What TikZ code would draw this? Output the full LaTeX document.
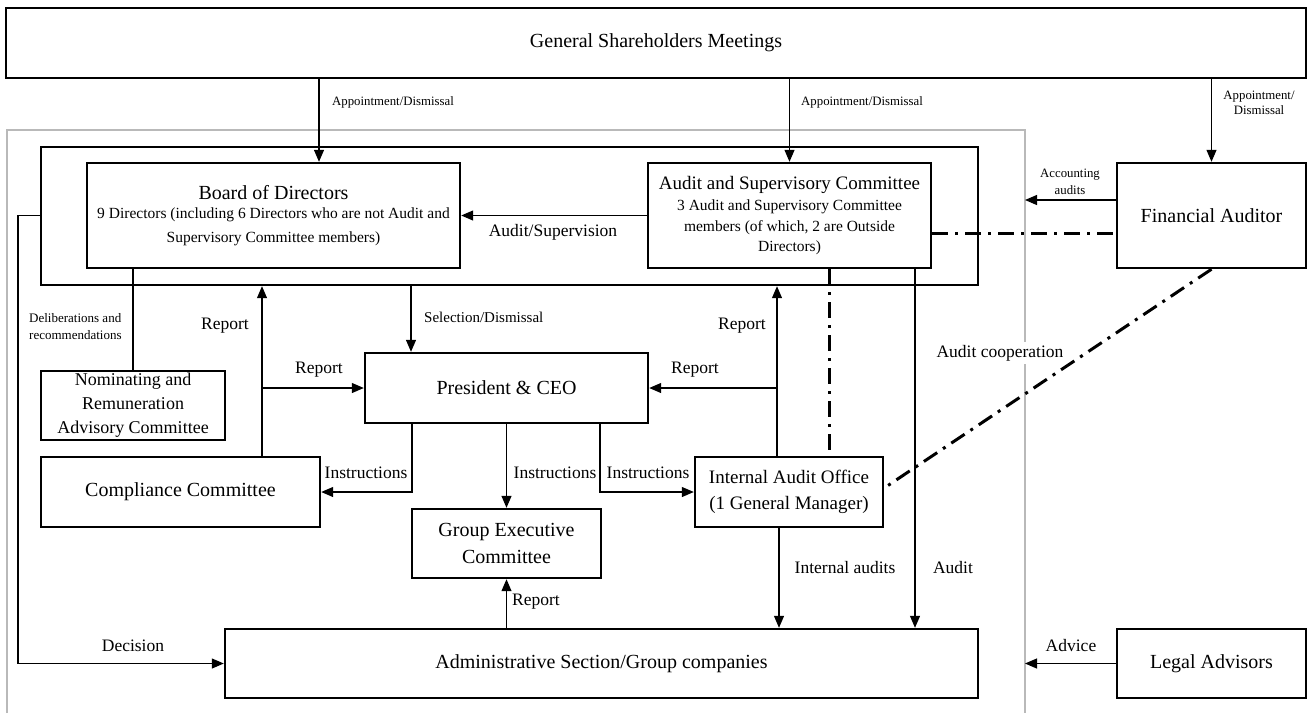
\documentclass[tikz,border=0pt]{standalone}
\usepackage{fontspec}
\setmainfont{Liberation Serif}
\usetikzlibrary{arrows.meta}
\newcommand\myTitle{\fontsize{20}{25}\selectfont}
\newcommand\myLab{\fontsize{17.5}{21}\selectfont}
\newcommand\mySmall{\fontsize{12.8}{15.5}\selectfont}
\begin{document}
\begin{tikzpicture}[x=1pt,y=-1pt,
 box/.style={draw, line width=2.4pt, inner sep=0pt, align=center, font=\myTitle},
 conn/.style={line width=1.2pt},
 arr/.style={conn, -{Triangle[length=12pt,width=10pt]}},
 dd/.style={line width=3pt, dash pattern=on 16pt off 7pt on 3pt off 7pt},
 lab/.style={font=\myLab, inner sep=1pt},
 small/.style={font=\mySmall, inner sep=0pt, align=center},
 frame/.style={draw=gray!55, line width=1.6pt}]
\useasboundingbox (0,0) rectangle (1309,713);

% helper coordinates
\coordinate (gL) at (7,713);
\coordinate (gTL) at (7,130);
\coordinate (gTR) at (1025,130);
\coordinate (gR) at (1025,713);
\coordinate (xA) at (319,0);
\coordinate (yAcc) at (0,200);
\coordinate (yDD) at (0,233);
\coordinate (xDec) at (18,0);
\coordinate (xR1) at (262,0);
\coordinate (xSel) at (411,0);
\coordinate (xR2) at (777,0);
\coordinate (xI1) at (412,0);
\coordinate (xI3) at (600,0);
\coordinate (xIA) at (779,0);
\coordinate (xAu) at (915,0);
\coordinate (xDD) at (829,0);

% gray frame
\draw[frame] (gL) -- (gTL) -- (gTR) -- (gR);

% boxes
\node[box, minimum width=1300pt, minimum height=70pt] (gsm) at (656,43) {General Shareholders Meetings};
\node[box, minimum width=937pt, minimum height=138pt] (board) at (509.5,216) {};
\node[box, minimum width=373pt, minimum height=105pt, font=\fontsize{15.5}{24}\selectfont] (bod) at (273.5,215.5)
  {{\myTitle Board of Directors}\\[-4.5pt]9 Directors (including 6 Directors who are not Audit and\\Supervisory Committee members)};
\node[box, minimum width=283pt, minimum height=105pt, font=\fontsize{15.5}{20.5}\selectfont] (asc) at (789.5,215.5)
  {{\fontsize{19}{24}\selectfont Audit and Supervisory Committee}\\[1pt]3 Audit and Supervisory Committee\\members (of which, 2 are Outside\\Directors)};
\node[box, minimum width=189pt, minimum height=105pt] (fa) at (1211.5,215.5) {Financial Auditor};
\node[box, minimum width=184pt, minimum height=69pt, font=\fontsize{18}{24}\selectfont] (nrac) at (133,405.5)
  {Nominating and\\Remuneration\\Advisory Committee};
\node[box, minimum width=283pt, minimum height=70pt] (pres) at (506.5,388) {President \& CEO};
\node[box, minimum width=279pt, minimum height=70pt] (comp) at (180.5,492) {Compliance Committee};
\node[box, minimum width=189pt, minimum height=69pt, font=\fontsize{20}{27}\selectfont] (gec) at (506.5,543.5) {Group Executive\\Committee};
\node[box, minimum width=188pt, minimum height=70pt, font=\fontsize{19}{26}\selectfont] (iao) at (789,492) {Internal Audit Office\\(1 General Manager)};
\node[box, minimum width=753pt, minimum height=69pt] (admin) at (601.5,663.5) {Administrative Section/Group companies};
\node[box, minimum width=189pt, minimum height=69pt] (la) at (1211.5,663.5) {Legal Advisors};

% labels
\node[small, anchor=west] (lapp1) at (332,102) {Appointment/Dismissal};
\node[small, anchor=west] (lapp2) at (801,102) {Appointment/Dismissal};
\node[small, font=\fontsize{12.8}{15}\selectfont] (lapp3) at (1259,102.5) {Appointment/\\Dismissal};
\node[small, font=\fontsize{12.8}{17}\selectfont] (lacc) at (1070,181.5) {Accounting\\audits};
\node[lab] (lasup) at (553,232) {Audit/Supervision};
\node[small, align=left, anchor=west, font=\fontsize{13}{17}\selectfont] (ldel) at (29,326.5) {Deliberations and\\recommendations};
\node[lab] (lrep1) at (225,326) {Report};
\node[lab] (lrep2) at (742,326) {Report};
\node[lab, font=\fontsize{15}{18}\selectfont, anchor=west] (lsel) at (423,317) {Selection/Dismissal};
\node[lab] (lrep3) at (319,370) {Report};
\node[lab] (lrep4) at (695,370) {Report};
\node[lab, fill=white, inner sep=3pt] (lcoop) at (1000,353) {Audit cooperation};
\node[lab] (lins1) at (366,473) {Instructions};
\node[lab] (lins2) at (555,473) {Instructions};
\node[lab] (lins3) at (648,473) {Instructions};
\node[lab, anchor=west] (lrep5) at (511,602) {Report};
\node[lab] (ldec) at (133,646) {Decision};
\node[lab] (lint) at (845,568) {Internal audits};
\node[lab] (laud) at (953,568) {Audit};
\node[lab] (ladv) at (1071,646) {Advice};

% connectors
\draw[arr] (gsm.south -| xA) -- (bod.north -| xA);
\draw[arr] (gsm.south -| asc) -- (asc.north);
\draw[arr] (gsm.south -| fa) -- (fa.north);
\draw[arr] (fa.west |- yAcc) -- (gR |- yAcc);
\draw[arr] (asc.west) -- (bod.east);
\draw[arr] (board.west |- bod.center) -- (bod.center -| xDec) -- (admin.west -| xDec) -- (admin.west);
\draw[conn] (bod.south -| nrac) -- (nrac.north);
\draw[arr] (comp.north -| xR1) -- (board.south -| xR1);
\draw[arr] (pres.west -| xR1) -- (pres.west);
\draw[arr] (board.south -| xSel) -- (pres.north -| xSel);
\draw[arr] (iao.north -| xR2) -- (board.south -| xR2);
\draw[arr] (pres.east -| xR2) -- (pres.east);
\draw[arr] (pres.south -| xI1) -- (comp.east -| xI1) -- (comp.east);
\draw[arr] (pres.south) -- (gec.north);
\draw[arr] (pres.south -| xI3) -- (iao.west -| xI3) -- (iao.west);
\draw[arr] (admin.north -| gec) -- (gec.south);
\draw[arr] (iao.south -| xIA) -- (admin.north -| xIA);
\draw[arr] (asc.south -| xAu) -- (admin.north -| xAu);
\draw[arr] (la.west) -- (gR |- la.west);
\draw[dd] (asc.east |- yDD) -- (fa.west |- yDD);
\draw[dd] (asc.south -| xDD) -- (iao.north -| xDD);
\draw[dd] (fa.south) -- ([yshift=4pt]iao.east);
\end{tikzpicture}
\end{document}
